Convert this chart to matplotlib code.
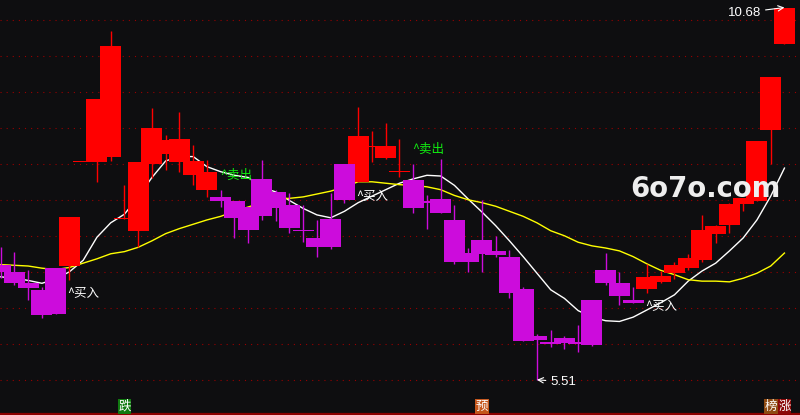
import matplotlib
matplotlib.use('Agg')
import matplotlib.pyplot as plt
import numpy as np
from matplotlib.transforms import blended_transform_factory

# ---------------- data ----------------
opens = [7.10, 7.01, 6.86, 6.76, 7.06, 7.09, 8.53, 8.54, 8.61, 7.74,
         7.58, 8.50, 8.65, 8.54, 8.36, 8.15, 8.05, 7.99, 7.91, 8.30,
         8.12, 7.94, 7.59, 7.48, 7.74, 8.51, 8.25, 8.74, 8.59, 8.39,
         8.28, 7.99, 8.02, 7.73, 7.27, 7.45, 7.30, 7.22, 6.77, 6.12,
         6.03, 6.09, 6.03, 6.62, 7.03, 6.85, 6.62, 6.77, 6.87, 6.99,
         7.06, 7.17, 7.53, 7.66, 7.95, 7.99, 8.98, 10.18]
highs = [7.35, 7.28, 7.03, 6.80, 7.06, 7.77, 8.54, 9.41, 10.35, 8.22,
         8.54, 9.28, 8.91, 9.23, 8.77, 8.56, 8.15, 7.99, 7.91, 8.56,
         8.15, 8.10, 7.94, 7.73, 8.10, 8.51, 9.30, 8.97, 9.08, 8.85,
         8.51, 8.08, 8.58, 7.94, 7.34, 8.01, 7.51, 7.31, 6.80, 6.15,
         6.20, 6.12, 6.27, 6.62, 7.27, 7.01, 6.80, 7.12, 7.02, 7.15,
         7.26, 7.80, 7.66, 7.97, 8.03, 8.83, 9.72, 10.68]
lows = [6.92, 6.83, 6.62, 6.37, 6.42, 6.90, 8.53, 8.26, 8.55, 7.74,
        7.36, 8.31, 8.42, 8.40, 8.22, 8.05, 7.91, 7.48, 7.41, 7.73,
        7.71, 7.55, 7.43, 7.21, 7.33, 7.97, 8.25, 8.54, 8.58, 8.33,
        7.83, 7.60, 7.82, 7.12, 7.01, 7.01, 7.22, 6.64, 6.05, 5.51,
        5.96, 5.94, 5.90, 5.98, 6.83, 6.55, 6.57, 6.72, 6.85, 6.91,
        7.03, 7.15, 7.41, 7.55, 7.86, 7.99, 8.51, 10.18]
closes = [7.01, 6.86, 6.79, 6.41, 6.42, 7.77, 8.54, 9.41, 10.15, 7.75,
          8.54, 9.01, 8.84, 8.85, 8.55, 8.40, 7.99, 7.75, 7.59, 7.79,
          7.90, 7.62, 7.57, 7.36, 7.36, 8.01, 8.90, 8.76, 8.76, 8.41,
          7.90, 7.97, 7.82, 7.14, 7.14, 7.26, 7.24, 6.72, 6.05, 6.06,
          6.01, 6.02, 6.01, 5.99, 6.86, 6.67, 6.58, 6.94, 6.95, 7.10,
          7.20, 7.59, 7.65, 7.95, 8.03, 8.83, 9.72, 10.68]
ma_short = [6.94, 6.92, 6.89, 6.85, 6.91, 7.01, 7.17, 7.49, 7.69, 7.81,
            8.05, 8.32, 8.55, 8.61, 8.61, 8.47, 8.40, 8.35, 8.32, 8.18,
            8.12, 8.00, 7.89, 7.80, 7.76, 7.85, 7.97, 8.06, 8.15, 8.24,
            8.30, 8.35, 8.34, 8.21, 8.02, 7.84, 7.65, 7.44, 7.22, 6.99,
            6.76, 6.64, 6.47, 6.38, 6.33, 6.32, 6.38, 6.48, 6.58, 6.69,
            6.88, 7.02, 7.13, 7.30, 7.48, 7.73, 8.06, 8.45]
ma_long = [7.11, 7.10, 7.09, 7.06, 7.04, 7.07, 7.13, 7.19, 7.26, 7.29,
           7.35, 7.44, 7.54, 7.61, 7.67, 7.73, 7.78, 7.85, 7.91, 7.97,
           8.02, 8.03, 8.05, 8.09, 8.13, 8.19, 8.26, 8.26, 8.24, 8.22,
           8.21, 8.19, 8.15, 8.07, 8.01, 7.97, 7.92, 7.85, 7.78, 7.69,
           7.58, 7.51, 7.42, 7.37, 7.34, 7.30, 7.22, 7.12, 7.03, 6.97,
           6.90, 6.88, 6.88, 6.87, 6.92, 6.99, 7.09, 7.27]
buy_idx = [5, 26, 47]
sell_idx = [16, 30]
grid_levels = [10.5, 10.0, 9.5, 9.0, 8.5, 8.0, 7.5, 7.0, 6.5, 6.0, 5.5]
bottom_marks = [(9, '跌'), (35, '预'), (56, '榜'), (57, '涨')]
low_label = '5.51'
high_label = '10.68'
watermark = '6o7o.com'

# ---------------- styles ----------------
BG = '#0e0e10'
RED = '#ff0000'
MAG = '#cc0cdc'
CJK = ['Noto Sans CJK SC', 'DejaVu Sans']
mark_colors = {'跌': '#117a11', '预': '#c4561c', '榜': '#8e4a12', '涨': '#8a0808'}

fig = plt.figure(figsize=(8, 4.15), dpi=100)
ax = fig.add_axes([0, 0, 1, 1])
fig.patch.set_facecolor(BG)
ax.set_facecolor(BG)
ax.set_xlim(-0.051, 58.131)
ax.set_ylim(5.0208, 10.7847)
ax.axis('off')

for lv in grid_levels:
    ax.axhline(lv, color='#990000', lw=0.8, ls=(0, (1, 4.5)), zorder=1)
ax.axhline(5.035, color='#8b0000', lw=1.6, zorder=1)

x = np.arange(len(opens))
o = np.array(opens); h = np.array(highs); l = np.array(lows); c = np.array(closes)
up = c >= o

ax.plot(x, ma_short, color='white', lw=1.0, zorder=2)
ax.plot(x, ma_long, color='#ffff00', lw=1.0, zorder=2)

bw = 21 / 13.75
mind = 0.02
for mask, col, z in [(up, RED, 4), (~up, MAG, 5)]:
    xi = x[mask]
    ax.vlines(xi, l[mask], h[mask], colors=col, lw=1.0, zorder=z - 0.5)
    bottom = np.minimum(o[mask], c[mask])
    height = np.maximum(np.abs(c[mask] - o[mask]), mind)
    ax.bar(xi, height, bottom=bottom, width=bw, color=col, lw=0, zorder=z)

for i in buy_idx:
    ax.annotate('^买入', xy=(i, lows[i]), xytext=(-2, -14), textcoords='offset pixels',
                ha='left', va='center', color='white', fontsize=9, family=CJK, zorder=7)
for i in sell_idx:
    ax.annotate('^卖出', xy=(i, highs[i]), xytext=(-1, 14), textcoords='offset pixels',
                ha='left', va='center', color='#11ee11', fontsize=9, family=CJK, zorder=7)

i_low = int(np.argmin(lows))
ax.annotate(low_label, xy=(i_low, lows[i_low]), xytext=(13, -2), textcoords='offset pixels',
            ha='left', va='center', color='white', fontsize=9.5, family='Liberation Sans',
            arrowprops=dict(arrowstyle='->', color='white', lw=0.8, shrinkA=1, shrinkB=0), zorder=7)
i_high = int(np.argmax(highs))
ax.annotate(high_label, xy=(i_high, highs[i_high]), xytext=(-23, -5), textcoords='offset pixels',
            ha='right', va='center', color='white', fontsize=9.5, family='Liberation Sans',
            arrowprops=dict(arrowstyle='->', color='white', lw=0.8, shrinkA=1, shrinkB=0), zorder=7)

ax.text((630 - 0.7) / 13.75, 10.7847 - 197 / 72, watermark, ha='left', va='baseline',
        color='#eeeeee', fontsize=19.8, fontweight='bold', family='DejaVu Sans', zorder=8)

tr = blended_transform_factory(ax.transData, ax.transAxes)
for i, ch in bottom_marks:
    ax.text(i, 1 - 406.5 / 415, ch, transform=tr, ha='center', va='center',
            color='white', fontsize=9, family=CJK, zorder=7,
            bbox=dict(boxstyle='square,pad=0.05', fc=mark_colors[ch], ec='none'))

fig.savefig('out.png', dpi=100, facecolor=BG)
